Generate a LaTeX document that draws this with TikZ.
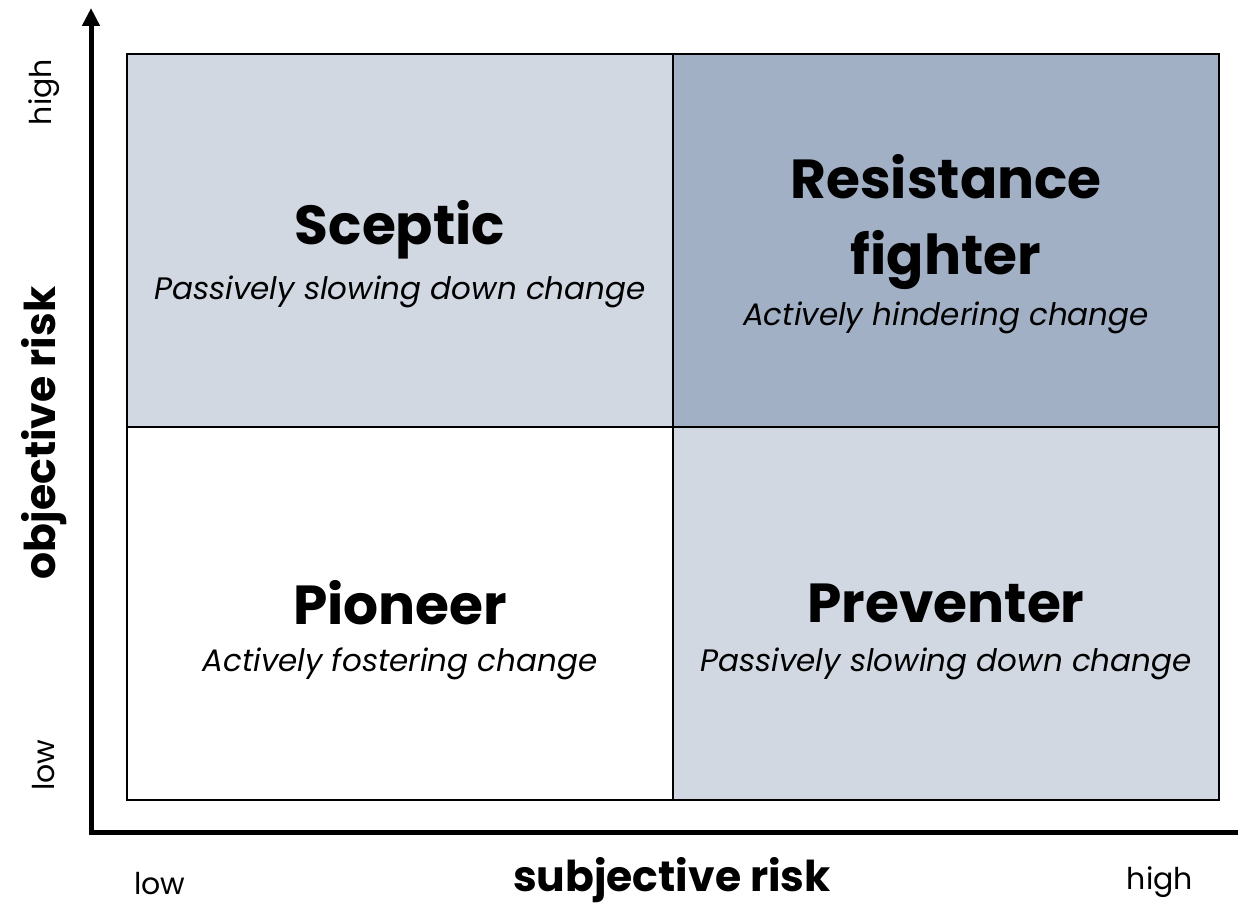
\documentclass[tikz,border=0pt]{standalone}
\usepackage{fontspec}
\setmainfont{Poppins}
\usetikzlibrary{arrows.meta}
\definecolor{cellLight}{RGB}{209,216,226}
\definecolor{cellDark}{RGB}{161,176,197}
\tikzset{
  cell/.style={draw=black, line width=2pt},
  axis/.style={line width=5pt, line join=miter},
  title/.style={font=\fontsize{55}{76}\selectfont\bfseries, align=center},
  sub/.style={font=\fontsize{31}{34}\selectfont\itshape},
  axlabel/.style={font=\fontsize{42.5}{46}\selectfont\bfseries},
  tick/.style={font=\fontsize{30}{34}\selectfont}
}
\begin{document}
\begin{tikzpicture}[x=1pt,y=-1pt]
\useasboundingbox (0,0) rectangle (1238,907);
% quadrant fills
\fill[cellLight] (127,54) rectangle (673,427);
\fill[cellDark]  (673,54) rectangle (1219,427);
\fill[white]     (127,427) rectangle (673,800);
\fill[cellLight] (673,427) rectangle (1219,800);
% grid lines
\draw[cell] (127,54) rectangle (1219,800);
\draw[cell] (673,54) -- (673,800);
\draw[cell] (127,427) -- (1219,427);
% axes
\coordinate (top) at (91,8);
\coordinate (origin) at (91,832);
\coordinate (right) at (1262,832);
\draw[axis, {Triangle[width=17pt,length=18pt]}-{Triangle[width=17pt,length=18pt]}] (top) -- (origin) -- (right);
% quadrant labels
\node[title] (sceptic) at (400,230) {Sceptic};
\node[sub]   (scepticSub) at (400,292) {Passively slowing down change};
\node[title] (resist) at (946,222) {Resistance\\fighter};
\node[sub]   (resistSub) at (946,318) {Actively hindering change};
\node[title] (pioneer) at (400,603) {Pioneer};
\node[sub]   (pioneerSub) at (400,664) {Actively fostering change};
\node[title] (preventer) at (946,603) {Preventer};
\node[sub]   (preventerSub) at (946,664) {Passively slowing down change};
% axis labels
\node[axlabel] (xlab) at (672,880) {subjective risk};
\node[axlabel, rotate=90] (ylab) at (44,433) {objective risk};
\node[tick] (xlow) at (160,884) {low};
\node[tick] (xhigh) at (1160,882) {high};
\node[tick, rotate=90] (ylow) at (44,765) {low};
\node[tick, rotate=90] (yhigh) at (44,92) {high};
\end{tikzpicture}
\end{document}
